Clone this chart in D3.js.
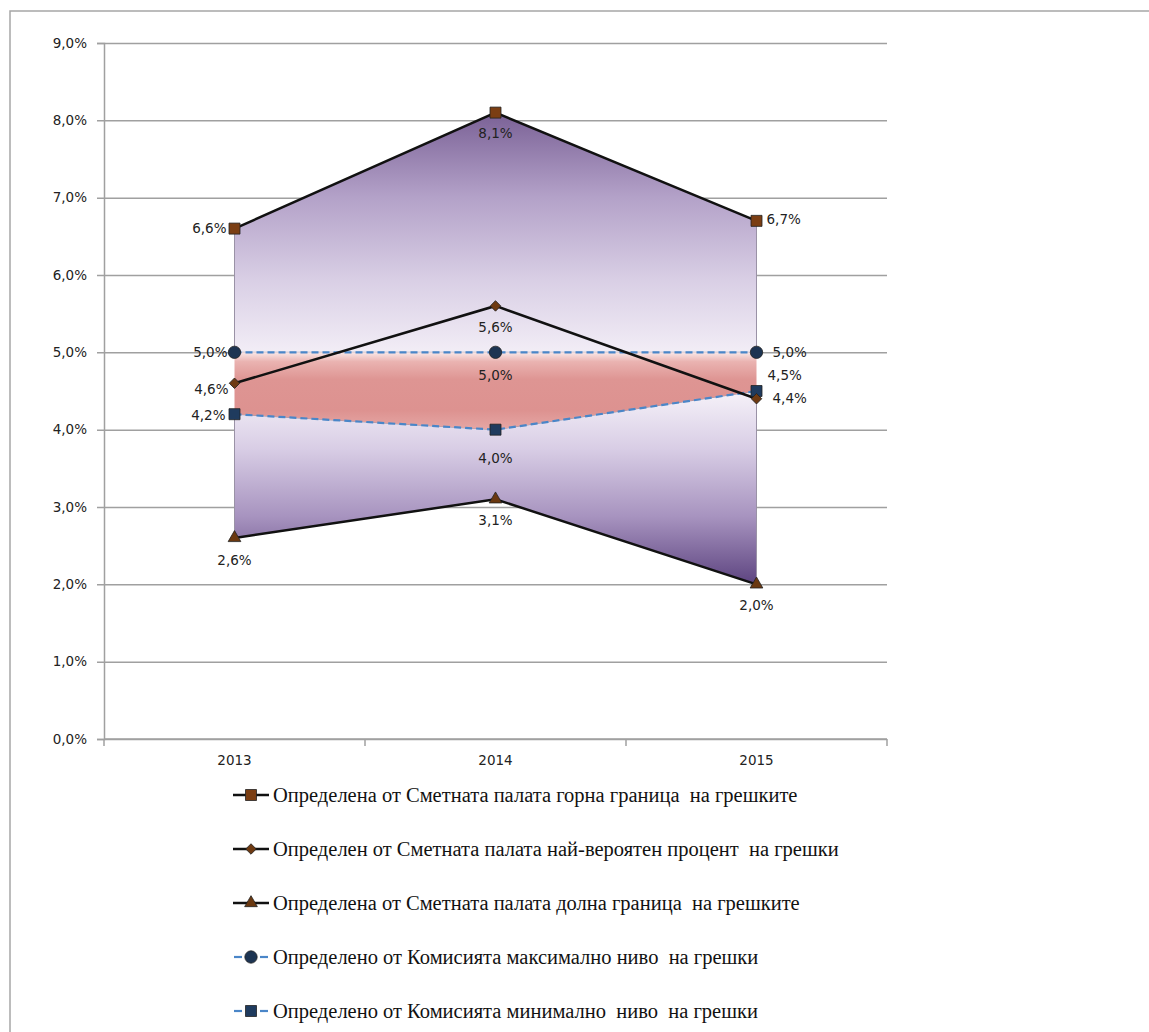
<!DOCTYPE html>
<html><head><meta charset="utf-8">
<script src="https://cdn.jsdelivr.net/npm/d3@7/dist/d3.min.js"></script>
<style>body{margin:0;background:#fff}svg{display:block}</style>
</head><body>
<svg id="c" width="1149" height="1032"></svg>
<script>
// ---- data ----
const years = ["2013", "2014", "2015"];
const upperBound = [6.6, 8.1, 6.7];
const mostLikely = [4.6, 5.6, 4.4];
const lowerBound = [2.6, 3.1, 2.0];
const commissionMax = [5.0, 5.0, 5.0];
const commissionMin = [4.2, 4.0, 4.5];
const yTicks = [0, 1, 2, 3, 4, 5, 6, 7, 8, 9];
const seriesNames = [
  "Определена от Сметната палата горна граница  на грешките",
  "Определен от Сметната палата най-вероятен процент  на грешки",
  "Определена от Сметната палата долна граница  на грешките",
  "Определено от Комисията максимално ниво  на грешки",
  "Определено от Комисията минимално  ниво  на грешки"
];

// ---- layout / style ----
const svg = d3.select("#c");
const x0 = 104, x1 = 887, yTop = 43, yBot = 739;
const x = d3.scaleBand().domain(years).range([x0, x1]);
const cx = d => x(d) + x.bandwidth() / 2;
const y = d3.scaleLinear().domain([0, 9]).range([yBot, yTop]);
const fmt = v => d3.format(".1f")(v).replace(".", ",") + "%";
const labelFont = "DejaVu Sans, Verdana, sans-serif";

// outer frame
svg.append("path").attr("d", "M10,1032 L10,11 L1149,11")
  .attr("fill", "none").attr("stroke", "#a6a6a6").attr("stroke-width", 1.5);

// gradients
const defs = svg.append("defs");
function grad(id, ya, yb, stops) {
  const g = defs.append("linearGradient").attr("id", id)
    .attr("gradientUnits", "userSpaceOnUse")
    .attr("x1", 0).attr("x2", 0).attr("y1", ya).attr("y2", yb);
  stops.forEach(s => g.append("stop").attr("offset", s[0]).attr("stop-color", s[1]));
}
grad("gUp", y(8.1), y(5.0), [[0, "#7a6196"], [0.35, "#b3a1c8"], [0.7, "#d9cfe5"], [1, "#f2edf6"]]);
grad("gLow", y(4.5), y(2.0), [[0, "#f6f2f9"], [0.3, "#d8cde5"], [0.65, "#a793bf"], [1, "#5d4480"]]);
grad("gRed", y(5.0), y(4.0), [[0, "#fae8e8"], [0.12, "#eab3b1"], [0.35, "#de9593"], [0.75, "#dd9290"], [1, "#e6a7a5"]]);

// gridlines
svg.append("g").attr("transform", `translate(${x0},0)`)
  .call(d3.axisLeft(y).tickValues(yTicks).tickSize(7).tickFormat(fmt))
  .call(g => g.select(".domain").attr("stroke", "#a0a0a0").attr("stroke-width", 1.5))
  .call(g => g.selectAll(".tick line").attr("stroke", "#a0a0a0").attr("stroke-width", 1.5)
    .attr("x1", x1 - x0).attr("x2", -7))
  .call(g => g.selectAll(".tick text").attr("x", -17).attr("fill", "#222")
    .attr("font-family", labelFont).attr("font-size", 13.5));

svg.append("g").attr("transform", `translate(0,${yBot})`)
  .call(d3.axisBottom(x).tickSize(0).tickPadding(16))
  .call(g => g.select(".domain").remove())
  .call(g => g.selectAll(".tick text").attr("fill", "#222")
    .attr("font-family", labelFont).attr("font-size", 13.5));
// x tick marks at band boundaries
svg.append("g").selectAll("line").data([...years.map(d => x(d)), x1]).join("line")
  .attr("x1", d => d).attr("x2", d => d).attr("y1", yBot).attr("y2", yBot + 7)
  .attr("stroke", "#a0a0a0").attr("stroke-width", 1.5);
svg.append("line").attr("x1", x0).attr("x2", x1).attr("y1", yBot).attr("y2", yBot)
  .attr("stroke", "#a0a0a0").attr("stroke-width", 1.5);

// areas
const area = (top, bot) => d3.area().x((d, i) => cx(years[i])).y0((d, i) => y(bot[i])).y1((d, i) => y(top[i]));
svg.append("path").datum(years).attr("d", area(upperBound, commissionMax))
  .attr("fill", "url(#gUp)").attr("stroke", "#9a92a6").attr("stroke-width", 1);
svg.append("path").datum(years).attr("d", area(commissionMin, lowerBound))
  .attr("fill", "url(#gLow)").attr("stroke", "#9a92a6").attr("stroke-width", 1);
svg.append("path").datum(years).attr("d", area(commissionMax, commissionMin))
  .attr("fill", "url(#gRed)");

// lines
const line = vals => d3.line().x((d, i) => cx(years[i])).y((d, i) => y(vals[i]))(years);
const series = [
  {v: upperBound, c: "#111", dash: null, m: "square", mc: "#7b3e13"},
  {v: mostLikely, c: "#111", dash: null, m: "diamond", mc: "#6e3a12"},
  {v: lowerBound, c: "#111", dash: null, m: "triangle", mc: "#6a3810"},
  {v: commissionMax, c: "#4a86c8", dash: "7,4", m: "circle", mc: "#1d3452"},
  {v: commissionMin, c: "#4a86c8", dash: "7,4", m: "square", mc: "#1f3b5e"}
];
// draw order: dashed first so solid lines on top
[3, 4, 0, 1, 2].forEach(k => {
  const s = series[k];
  svg.append("path").attr("d", line(s.v)).attr("fill", "none")
    .attr("stroke", s.c).attr("stroke-width", s.dash ? 2.2 : 2.5)
    .attr("stroke-dasharray", s.dash);
});

const symType = {square: d3.symbolSquare, diamond: d3.symbolSquare, triangle: d3.symbolTriangle, circle: d3.symbolCircle};
const symSize = {square: 121, diamond: 55, triangle: 70, circle: 120};
function marker(g, m, col, px, py) {
  g.append("path").attr("d", d3.symbol(symType[m], symSize[m])())
    .attr("transform", `translate(${px},${py})` + (m === "diamond" ? " rotate(45)" : ""))
    .attr("fill", col).attr("stroke", "#222").attr("stroke-width", 0.8);
}
const mg = svg.append("g");
[3, 4, 0, 1, 2].forEach(k => {
  const s = series[k];
  s.v.forEach((v, i) => marker(mg, s.m, s.mc, cx(years[i]), y(v)));
});

// data labels: placement per series/point [dx, dy, anchor]
const placements = [
  [[-8, 0, "end"], [0, 21, "middle"], [10, -2, "start"]],
  [[-6, 6, "end"], [0, 21, "middle"], [16, 0, "start"]],
  [[0, 22, "middle"], [0, 21, "middle"], [0, 21, "middle"]],
  [[-7, 0, "end"], [0, 23, "middle"], [16, 0, "start"]],
  [[-9, 1, "end"], [0, 29, "middle"], [11, -16, "start"]]
];
const lg = svg.append("g").attr("font-family", labelFont).attr("font-size", 13.5).attr("fill", "#222");
series.forEach((s, k) => s.v.forEach((v, i) => {
  const p = placements[k][i];
  lg.append("text").attr("x", cx(years[i]) + p[0]).attr("y", y(v) + p[1])
    .attr("dy", "0.35em").attr("text-anchor", p[2]).text(fmt(v));
}));

// legend
const leg = svg.append("g");
seriesNames.forEach((name, k) => {
  const s = series[k];
  const ly = 795 + k * 54;
  if (s.dash) {
    leg.append("line").attr("x1", 234).attr("x2", 242).attr("y1", ly).attr("y2", ly)
      .attr("stroke", s.c).attr("stroke-width", 2.2);
    leg.append("line").attr("x1", 260).attr("x2", 268).attr("y1", ly).attr("y2", ly)
      .attr("stroke", s.c).attr("stroke-width", 2.2);
  } else {
    leg.append("line").attr("x1", 233).attr("x2", 269).attr("y1", ly).attr("y2", ly)
      .attr("stroke", s.c).attr("stroke-width", 2.5);
  }
  marker(leg, s.m, s.mc, 251, ly);
  leg.append("text").attr("x", 273).attr("y", ly).attr("dy", "0.33em")
    .attr("font-family", "Liberation Serif, Times New Roman, serif").attr("font-size", 20.5)
    .attr("fill", "#111").style("white-space", "pre").text(name);
});
</script>
</body></html>
